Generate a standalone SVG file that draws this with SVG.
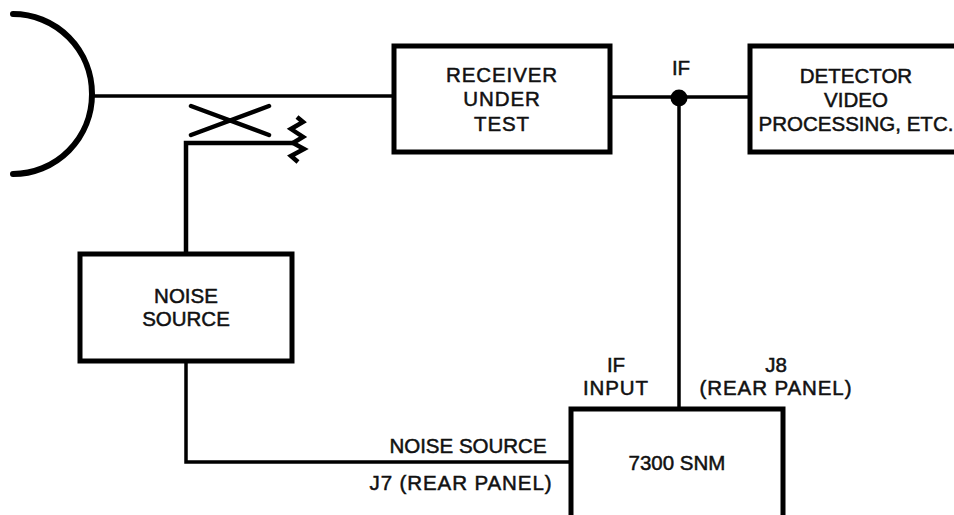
<svg xmlns="http://www.w3.org/2000/svg" width="954" height="515" viewBox="0 0 954 515">
<style>
.b{fill:#fff;stroke:#000;stroke-width:5}
.l{fill:none;stroke:#000;stroke-width:3.5}
.t{stroke-width:4.5}
text{font-family:"Liberation Sans",Arial,sans-serif;font-size:20.5px;fill:#111;stroke:#111;stroke-width:.5;text-anchor:middle}
.w{letter-spacing:.9px}
</style>
<rect width="954" height="515" fill="#fff"/>
<g id="connectors">
<path class="l" d="M92 96H394"/>
<path class="l" d="M611 97H750"/>
<path class="l" d="M679 97V409"/>
<path class="l t" d="M186 252V143H293"/>
<path class="l" d="M186 361V462H570"/>
<path class="l t" d="M191 106L269 135M191 135L269 106" stroke-linecap="round"/>
<circle cx="679" cy="98" r="8.5" fill="#000"/>
</g>
<g id="antenna"><path d="M13 14A79 80 0 0 1 13 174" fill="none" stroke="#000" stroke-width="6" stroke-linecap="round"/></g>
<g id="attenuator"><path class="l t" d="M297 117L303 122L291 129L303 137L293 143L304 149L291 156L298 162"/></g>
<g id="receiver"><rect class="b" x="394" y="46" width="216" height="106"/><text class="w" x="502" y="82">RECEIVER</text><text class="w" x="502" y="106">UNDER</text><text class="w" x="502" y="131">TEST</text></g>
<g id="detector"><rect class="b" x="750" y="46" width="214" height="106"/><text x="856" y="83">DETECTOR</text><text x="856" y="107">VIDEO</text><text x="856" y="131">PROCESSING, ETC.</text></g>
<g id="if-label"><text x="681" y="75">IF</text></g>
<g id="noise"><rect class="b" x="80" y="254" width="212" height="107"/><text x="186" y="303">NOISE</text><text x="186" y="326">SOURCE</text></g>
<g id="snm"><rect class="b" x="571" y="409" width="212" height="120"/><text x="677" y="470">7300 SNM</text></g>
<g id="port-labels"><text x="616" y="372">IF</text><text class="w" x="616" y="395">INPUT</text><text x="776" y="372">J8</text><text class="w" x="776" y="395">(REAR PANEL)</text><text x="468" y="453">NOISE SOURCE</text><text class="w" x="461" y="490">J7 (REAR PANEL)</text></g>
</svg>
